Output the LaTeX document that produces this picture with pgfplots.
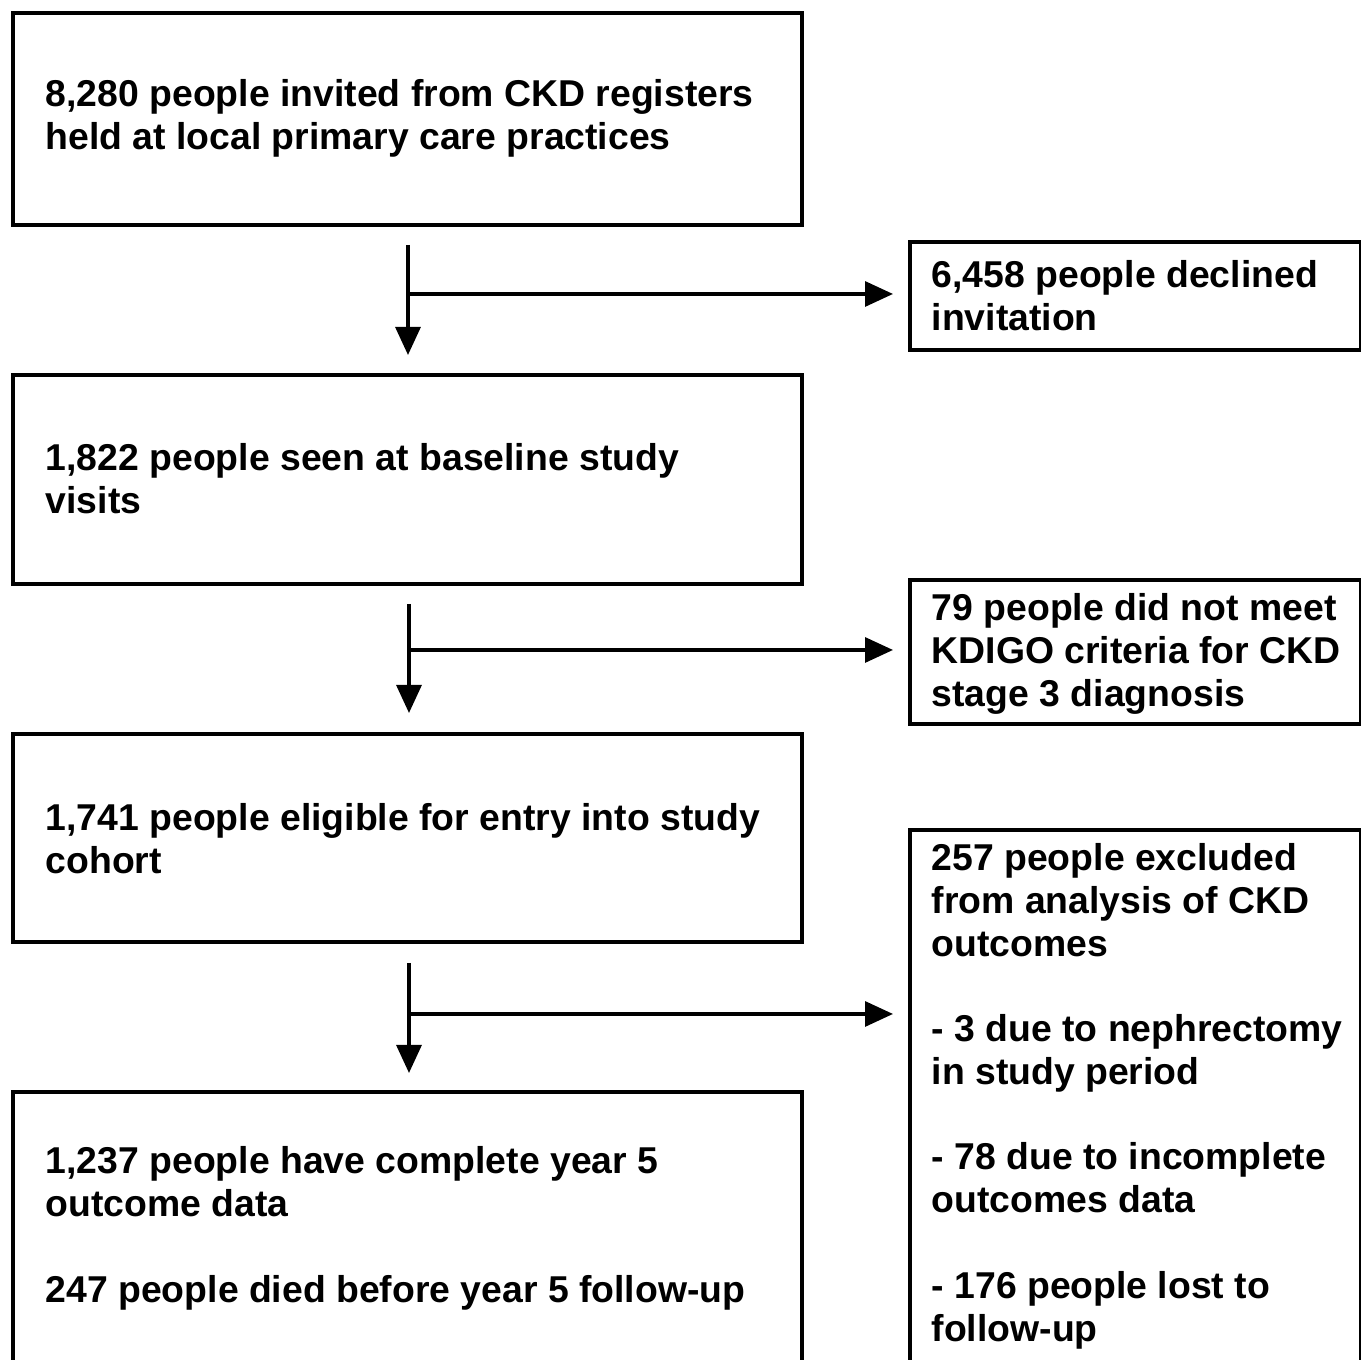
\documentclass[border=0pt]{standalone}
\usepackage{pgfplots}
\pgfplotsset{compat=1.18}
\usepackage{fontspec}
\setmainfont{Liberation Sans}
\usetikzlibrary{arrows.meta}
\newcommand{\T}[3]{\node[anchor=base west,inner sep=0pt,font=\fontsize{10.63}{12.2}\selectfont\bfseries] at (axis cs:#1,-#2) {#3};}
\newcommand{\B}[4]{\draw[line width=0.32mm] (axis cs:#1,-#2) rectangle (axis cs:#3,-#4);}
\newcommand{\A}[4]{%
  \draw[line width=0.32mm,-{Triangle[length=2.8mm,width=2.5mm]}] (axis cs:#1,-#2) -- (axis cs:#1,-#3);
  \draw[line width=0.32mm,-{Triangle[length=2.8mm,width=2.5mm]}] (axis cs:#1,-#4) -- (axis cs:893,-#4);}
\begin{document}
\begin{tikzpicture}
\begin{axis}[hide axis, scale only axis, width=136.1mm, height=136mm,
  xmin=0, xmax=1361, ymin=-1360, ymax=0, clip=false]
\addplot[draw=none] coordinates {(0,0) (1361,-1360)};
% boxes
\B{13}{13}{802}{225}
\B{910}{242}{1361}{350}
\B{13}{375}{802}{584}
\B{910}{580}{1361}{724}
\B{13}{734}{802}{942}
\B{910}{830}{1361}{1375}
\B{13}{1092}{802}{1375}
% arrows
\A{408}{245}{355}{294}
\A{409}{604}{713}{650}
\A{409}{963}{1073}{1014}
% texts
\T{45}{107}{8,280 people invited from CKD registers}
\T{45}{150}{held at local primary care practices}
\T{931}{288}{6,458 people declined}
\T{931}{331}{invitation}
\T{45}{471}{1,822 people seen at baseline study}
\T{45}{514}{visits}
\T{931}{621}{79 people did not meet}
\T{931}{664}{KDIGO criteria for CKD}
\T{931}{707}{stage 3 diagnosis}
\T{45}{831}{1,741 people eligible for entry into study}
\T{45}{874}{cohort}
\T{931}{871}{257 people excluded}
\T{931}{914}{from analysis of CKD}
\T{931}{957}{outcomes}
\T{931}{1042}{- 3 due to nephrectomy}
\T{931}{1085}{in study period}
\T{931}{1170}{- 78 due to incomplete}
\T{931}{1213}{outcomes data}
\T{931}{1299}{- 176 people lost to}
\T{931}{1342}{follow-up}
\T{45}{1174}{1,237 people have complete year 5}
\T{45}{1217}{outcome data}
\T{45}{1303}{247 people died before year 5 follow-up}
\end{axis}
\pgfresetboundingbox
\path (0,0) rectangle (136.1mm,136mm);
\end{tikzpicture}
\end{document}
